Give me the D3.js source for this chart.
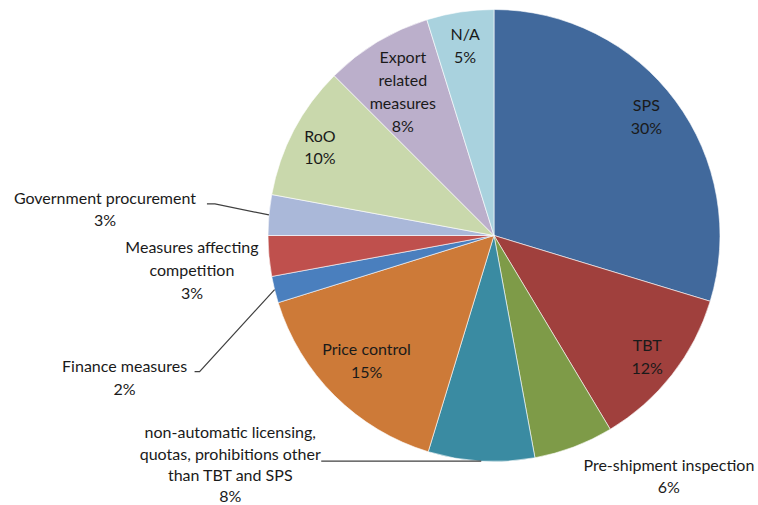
<!DOCTYPE html>
<html>
<head>
<meta charset="utf-8">
<script src="https://cdn.jsdelivr.net/npm/d3@7"></script>
<style>
  html, body { margin: 0; padding: 0; background: #ffffff; }
  svg { display: block; }
  text { font-family: Lato, "Open Sans", sans-serif; font-size: 16px; fill: #1a1a1a; }
</style>
</head>
<body>
<svg id="chart" width="758" height="505"></svg>
<script>
// ---- Data (clockwise from 12 o'clock) ----
const categories = [
  "SPS", "TBT", "Pre-shipment inspection",
  "non-automatic licensing, quotas, prohibitions other than TBT and SPS",
  "Price control", "Finance measures", "Measures affecting competition",
  "Government procurement", "RoO", "Export related measures", "N/A"
];
const values = [29.7, 11.7, 5.7, 7.6, 15.5, 1.9, 2.9, 2.9, 9.6, 7.7, 4.8];
const percentLabels = ["30%", "12%", "6%", "8%", "15%", "2%", "3%", "3%", "10%", "8%", "5%"];
const colors = ["#41699c", "#a0403d", "#7e9b48", "#3a8ba2", "#cd7a38", "#4a7fbe",
                "#bf504d", "#aab8d9", "#c9d8ac", "#bbafcb", "#a9d2de"];

// ---- Label layout (styling only) ----
const labelLines = [
  ["SPS"], ["TBT"], ["Pre-shipment inspection"],
  ["non-automatic licensing,", "quotas, prohibitions other", "than TBT and SPS"],
  ["Price control"], ["Finance measures"], ["Measures affecting", "competition"],
  ["Government procurement"], ["RoO"], ["Export", "related", "measures"], ["N/A"]
];
// inside: radius factor + nudge; outside: offset of label block centre from arc edge point
const labelMode = [
  {type: "in", k: 0.85, dx: -2, dy: -6}, {type: "in", k: 0.86, dx: 0, dy: 0},
  {type: "out", dx: 95, dy: 28, leader: false},
  {type: "out", dx: -251, dy: 2, leader: true, bend: [-158, 0], end: [-160, 0], lh: 21.2},
  {type: "in", k: 0.80, dx: 0, dy: -4},
  {type: "out", dx: -150, dy: 87, leader: true, bend: [-75, 82], end: [-80, 82]},
  {type: "out", dx: -77, dy: 13, leader: false},
  {type: "out", dx: -164, dy: -7, leader: true, bend: [-54, -11], end: [-62, -11]},
  {type: "in", k: 0.87, dx: 0, dy: 2}, {type: "in", k: 0.78, dx: 0, dy: 6},
  {type: "in", k: 0.85, dx: 0, dy: -1}
];

const width = 758, height = 505;
const cx = 494, cy = 235.5, r = 226;
const lineH = 22.8;

const svg = d3.select("#chart");
const g = svg.append("g").attr("transform", `translate(${cx},${cy})`);

const pie = d3.pie().sort(null).value(d => d.value);
const arcs = pie(categories.map((c, i) => ({name: c, value: values[i], i})));
const arc = d3.arc().innerRadius(0).outerRadius(r);

g.selectAll("path.slice")
  .data(arcs)
  .join("path")
  .attr("class", "slice")
  .attr("d", arc)
  .attr("fill", d => colors[d.data.i])
  .attr("stroke", "#ffffff")
  .attr("stroke-width", 0.6);

function edgePoint(d, rad) {
  const a = (d.startAngle + d.endAngle) / 2;
  return [rad * Math.sin(a), -rad * Math.cos(a)];
}

arcs.forEach(d => {
  const i = d.data.i;
  const mode = labelMode[i];
  const lines = labelLines[i].concat([percentLabels[i]]);
  const lh = mode.lh || lineH;
  let x, y;
  if (mode.type === "in") {
    [x, y] = edgePoint(d, r * mode.k);
    x += mode.dx; y += mode.dy;
  } else {
    const [ex, ey] = edgePoint(d, r);
    x = ex + mode.dx; y = ey + mode.dy;
    if (mode.leader) {
      g.append("polyline")
        .attr("points", [[ex, ey], [ex + mode.bend[0], ey + mode.bend[1]], [ex + mode.end[0], ey + mode.end[1]]].map(p => p.join(",")).join(" "))
        .attr("fill", "none")
        .attr("stroke", "#404040")
        .attr("stroke-width", 1.2);
    }
  }
  const t = g.append("text")
    .attr("text-anchor", "middle")
    .attr("x", x)
    .attr("y", y - (lines.length - 1) * lh / 2)
    .attr("dominant-baseline", "central");
  lines.forEach((ln, j) => {
    t.append("tspan").attr("x", x).attr("dy", j === 0 ? 0 : lh).text(ln);
  });
});
</script>
</body>
</html>
